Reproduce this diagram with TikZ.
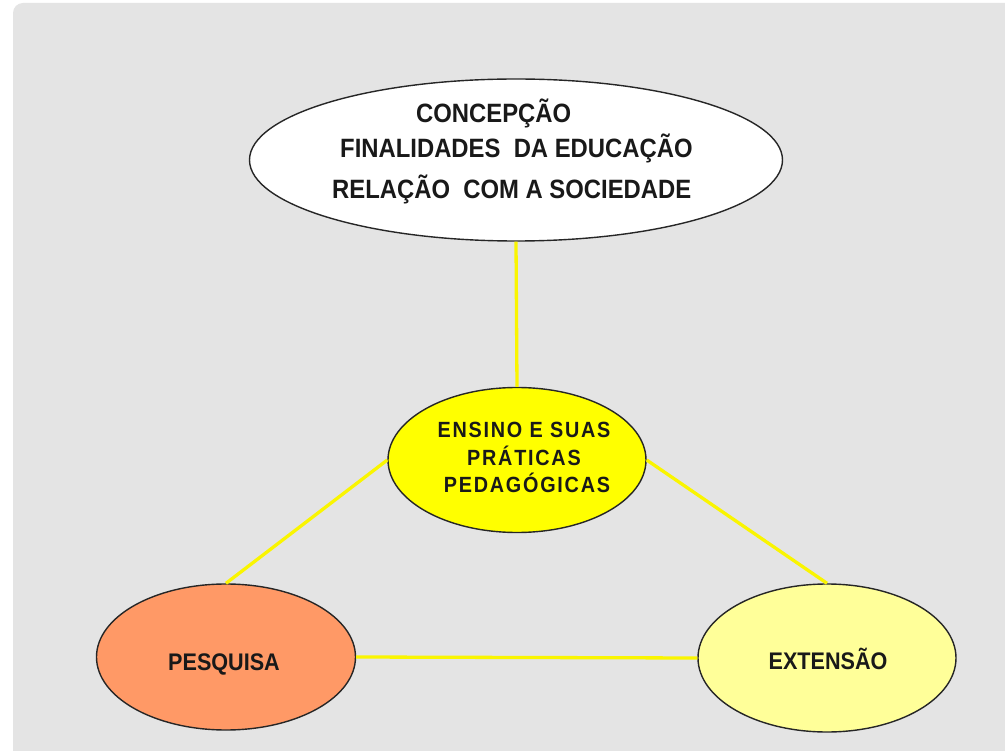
\documentclass[tikz,border=0pt]{standalone}
\usepackage{fontspec}
\setmainfont{Liberation Sans}[FakeStretch=0.9]
\newfontfamily\spacedfont{Liberation Sans}[FakeStretch=0.9, LetterSpace=8]
\usetikzlibrary{shapes.geometric}
\definecolor{bggrey}{HTML}{E4E4E4}
\definecolor{salmon}{HTML}{FF9966}
\definecolor{paleyellow}{HTML}{FFFF99}
\definecolor{brightyellow}{HTML}{FFFF00}
\definecolor{linkyellow}{HTML}{FAF500}
\begin{document}
\begin{tikzpicture}[x=1pt,y=-1pt,
  oval/.style={ellipse, draw=black!85, line width=1.4pt, inner sep=0pt},
  lbl/.style={font=\fontsize{26.5}{26.5}\selectfont\bfseries, inner sep=0pt, text=black!90},
  clbl/.style={font=\spacedfont\fontsize{22}{22}\selectfont\bfseries, inner sep=0pt, text=black!90},
  blbl/.style={font=\fontsize{24}{24}\selectfont\bfseries, inner sep=0pt, text=black!90},
  link/.style={draw=linkyellow, line width=3.3pt}]
\useasboundingbox (0,0) rectangle (1005,751);
\fill[white] (0,0) rectangle (1005,751);
\fill[bggrey, rounded corners=10pt] (13,3) rectangle (1020,770);
% ellipses
\node[oval, fill=white, minimum width=533pt, minimum height=162pt] (top) at (516,160) {};
\node[oval, fill=brightyellow, minimum width=258pt, minimum height=145pt] (ensino) at (517,460) {};
\node[oval, fill=salmon, minimum width=259pt, minimum height=146pt] (pesquisa) at (226,657) {};
\node[oval, fill=paleyellow, minimum width=258pt, minimum height=148pt] (extensao) at (827,658) {};
% connectors
\draw[link] (top.south) -- (ensino.north);
\draw[link] (ensino.west) -- (pesquisa.north);
\draw[link] (ensino.east) -- (extensao.north);
\draw[link] (pesquisa.east) -- (extensao.west);
% texts
\node[lbl, anchor=base west] (t1) at (416,123) {CONCEPÇÃO};
\node[lbl, anchor=base west] (t2) at (340,158) {FINALIDADES\ \ DA EDUCAÇÃO};
\node[lbl, anchor=base west] (t3) at (332,199) {RELAÇÃO\ \ COM A SOCIEDADE};
\node[clbl, anchor=base] (e1) at (524,438) {ENSINO\ E SUAS};
\node[clbl, anchor=base] (e2) at (524,465) {PRÁTICAS};
\node[clbl, anchor=base] (e3) at (527,493) {PEDAGÓGICAS};
\node[blbl, anchor=base] (p1) at (224,670) {PESQUISA};
\node[blbl, anchor=base] (x1) at (828,669) {EXTENSÃO};
\end{tikzpicture}
\end{document}
